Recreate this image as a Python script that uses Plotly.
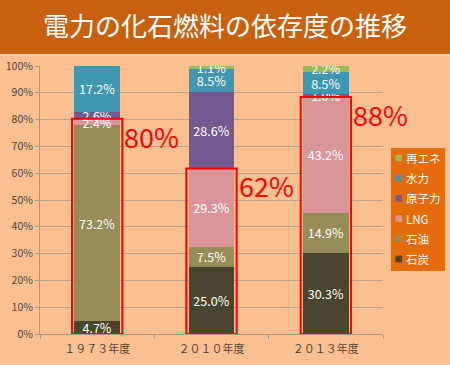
import plotly.graph_objects as go

categories = ["１９７３年度", "２０１０年度", "２０１３年度"]
series_names = ["石炭", "石油", "LNG", "原子力", "水力", "再エネ"]
coal = [4.7, 25.0, 30.3]
oil = [73.2, 7.5, 14.9]
lng = [2.4, 29.3, 43.2]
nuclear = [2.6, 28.6, 1.0]
hydro = [17.2, 8.5, 8.5]
renew = [0.0, 1.1, 2.2]
fossil_labels = ["80%", "62%", "88%"]

series_values = [coal, oil, lng, nuclear, hydro, renew]
colors = ["#4A4530", "#958C58", "#D9959A", "#735A90", "#3F98B1", "#9BBB59"]

FONT = "Noto Sans CJK JP"
W, H = 450, 365
L, R, T, B = 40, 67, 66, 31
PW, PH = W - L - R, H - T - B


def px_x(px):
    return (px - L) / PW


def px_y(py):
    return (H - B - py) / PH


fig = go.Figure()
for name, vals, col in zip(series_names, series_values, colors):
    fig.add_trace(go.Bar(
        x=categories, y=vals, name=name, marker_color=col,
        marker_line_width=0,
        text=[f"{v:.1f}%" if v > 0 else "" for v in vals],
        textposition="inside", insidetextanchor="middle",
        constraintext="none", textangle=0,
        textfont=dict(color="white", size=12.5, family=FONT),
        hoverinfo="skip", showlegend=False,
    ))

shapes = []
annotations = []
# Title banner
shapes.append(dict(type="rect", xref="paper", yref="paper",
                   x0=px_x(-10), x1=px_x(460), y0=px_y(54), y1=px_y(-10),
                   fillcolor="#C8610F", line_width=0, layer="below"))
shapes.append(dict(type="line", xref="paper", yref="paper",
                   x0=px_x(-10), x1=px_x(460), y0=px_y(55), y1=px_y(55),
                   line=dict(color="#FBD2AE", width=1.5)))

for i, cat in enumerate(categories):
    fossil = coal[i] + oil[i] + lng[i]
    shapes.append(dict(type="rect", xref="x", yref="y",
                       x0=i - 0.22, x1=i + 0.22, y0=0, y1=fossil,
                       line=dict(color="#FF0000", width=2),
                       fillcolor="rgba(0,0,0,0)", layer="above"))
    annotations.append(dict(x=i + 0.22, y=fossil, xref="x", yref="y",
                            text=fossil_labels[i], showarrow=False,
                            xanchor="left", yanchor="top", xshift=0, yshift=4,
                            font=dict(color="#FF0000", size=27, family=FONT)))

# Legend box (reversed order: top = last series)
shapes.append(dict(type="rect", xref="paper", yref="paper",
                   x0=px_x(391), x1=px_x(445), y0=px_y(271), y1=px_y(148),
                   fillcolor="#E46C0A", line_width=0, layer="above"))
for k, (name, col) in enumerate(zip(reversed(series_names), reversed(colors))):
    cy = 158 + k * 20.2
    shapes.append(dict(type="rect", xref="paper", yref="paper",
                       x0=px_x(395.5), x1=px_x(402), y0=px_y(cy + 3.3), y1=px_y(cy - 3.3),
                       fillcolor=col, line_width=0, layer="above"))
    annotations.append(dict(x=px_x(404), y=px_y(cy), xref="paper", yref="paper",
                            text=name, showarrow=False, xanchor="left", yanchor="middle",
                            font=dict(color="white", size=11.5, family=FONT)))

fig.update_layout(
    width=W, height=H,
    margin=dict(l=L, r=R, t=T, b=B, autoexpand=False),
    paper_bgcolor="#FAC091", plot_bgcolor="#FAC091",
    barmode="stack", bargap=0.6,
    showlegend=False,
    title=dict(text="電力の化石燃料の依存度の推移", x=0.5, xref="container",
               xanchor="center", y=1 - 27 / 365, yanchor="middle",
               font=dict(color="white", size=26, family=FONT)),
    shapes=shapes, annotations=annotations,
    xaxis=dict(range=[-0.5, 2.5], autorange=False,
               showgrid=False, showline=True, linecolor="#A89888", linewidth=1,
               ticks="outside", tickson="boundaries", ticklen=4, tickcolor="#A89888",
               ticklabelstandoff=5,
               tickfont=dict(color="#4F4437", size=11, family=FONT)),
    yaxis=dict(range=[0, 100], autorange=False, dtick=10, ticksuffix="%", showgrid=True,
               gridcolor="#B8A28C", gridwidth=1, showline=True, linecolor="#A89888",
               ticks="outside", ticklen=4, tickcolor="#A89888", zeroline=False,
               tickfont=dict(color="#4F4437", size=10.5, family=FONT)),
)
fig.write_html("out.html", config={"displayModeBar": False},
               post_script="document.body.style.margin='0';document.body.style.padding='0';")
